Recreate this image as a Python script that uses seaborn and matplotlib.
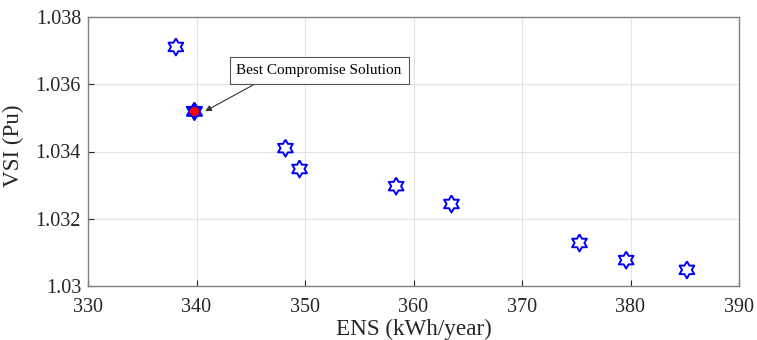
import matplotlib
matplotlib.use("Agg")
import matplotlib.pyplot as plt
import seaborn as sns
import pandas as pd
import numpy as np

ens = [338.1, 339.8, 348.2, 349.5, 358.4, 363.5, 375.3, 379.6, 385.2]
vsi = [1.03711, 1.03520, 1.03410, 1.03348, 1.03297, 1.03244, 1.03128, 1.03077, 1.03048]
best_index = 1
xticks = [330, 340, 350, 360, 370, 380, 390]
yticks = [1.030, 1.032, 1.034, 1.036, 1.038]
ytick_labels = ["1.03", "1.032", "1.034", "1.036", "1.038"]

df = pd.DataFrame({"ENS": ens, "VSI": vsi})

sns.set_style("whitegrid")
plt.rcParams["font.family"] = ["Liberation Serif", "DejaVu Serif"]

# hexagram marker shape
ang_out = np.deg2rad(90 + np.arange(6) * 60)
ang_in = ang_out + np.deg2rad(30)
r_in = 1 / np.sqrt(3)
verts = []
for ao, ai in zip(ang_out, ang_in):
    verts.append((np.cos(ao), np.sin(ao)))
    verts.append((r_in * np.cos(ai), r_in * np.sin(ai)))
verts.append(verts[0])

fig = plt.figure(figsize=(7.57, 3.4), dpi=100)
ax = fig.add_axes([88 / 757, 1 - 286 / 340, (739 - 88) / 757, (286 - 17) / 340])

sns.scatterplot(data=df, x="ENS", y="VSI", ax=ax, marker=verts, s=150,
                facecolor="none", edgecolor="blue", linewidth=1.4, zorder=3)
best = df.iloc[[best_index]]
sns.scatterplot(data=best, x="ENS", y="VSI", ax=ax, marker=verts, s=150,
                color="blue", edgecolor="blue", linewidth=1.4, zorder=4)
sns.scatterplot(data=best, x="ENS", y="VSI", ax=ax, marker="o", s=45,
                color="red", edgecolor="red", linewidth=0, zorder=5)

ax.set_xlim(330, 390)
ax.set_ylim(1.030, 1.038)
ax.set_xticks(xticks)
ax.set_xticklabels([str(t) for t in xticks])
ax.set_yticks(yticks)
ax.set_yticklabels(ytick_labels)
ax.tick_params(direction="in", length=4, labelsize=14.5, colors="#262626",
               bottom=True, left=True, top=False, right=False)
ax.tick_params(axis="x", pad=9)
ax.tick_params(axis="y", pad=5)
ax.grid(True, color="#e3e3e3", linewidth=0.8)
for sp in ax.spines.values():
    sp.set_color("#808080")
    sp.set_linewidth(1.0)

ax.set_xlabel("ENS (kWh/year)", fontsize=16.7, color="#262626", labelpad=1)
ax.set_ylabel("VSI (Pu)", fontsize=16.7, color="#262626")
ax.yaxis.set_label_coords(-0.099, 0.52)

ax.annotate("Best Compromise Solution",
            xy=(340.8, vsi[best_index]),
            xytext=(351.3, 1.03641), fontsize=11, color="black",
            ha="center", va="center",
            bbox=dict(boxstyle="square,pad=0.45", fc="white", ec="#555555", lw=0.8),
            arrowprops=dict(arrowstyle="-|>", color="#333333", lw=0.8,
                            mutation_scale=9, shrinkA=0, shrinkB=0,
                            relpos=(0.19, 0.0)))

fig.savefig("out.png", dpi=100)
